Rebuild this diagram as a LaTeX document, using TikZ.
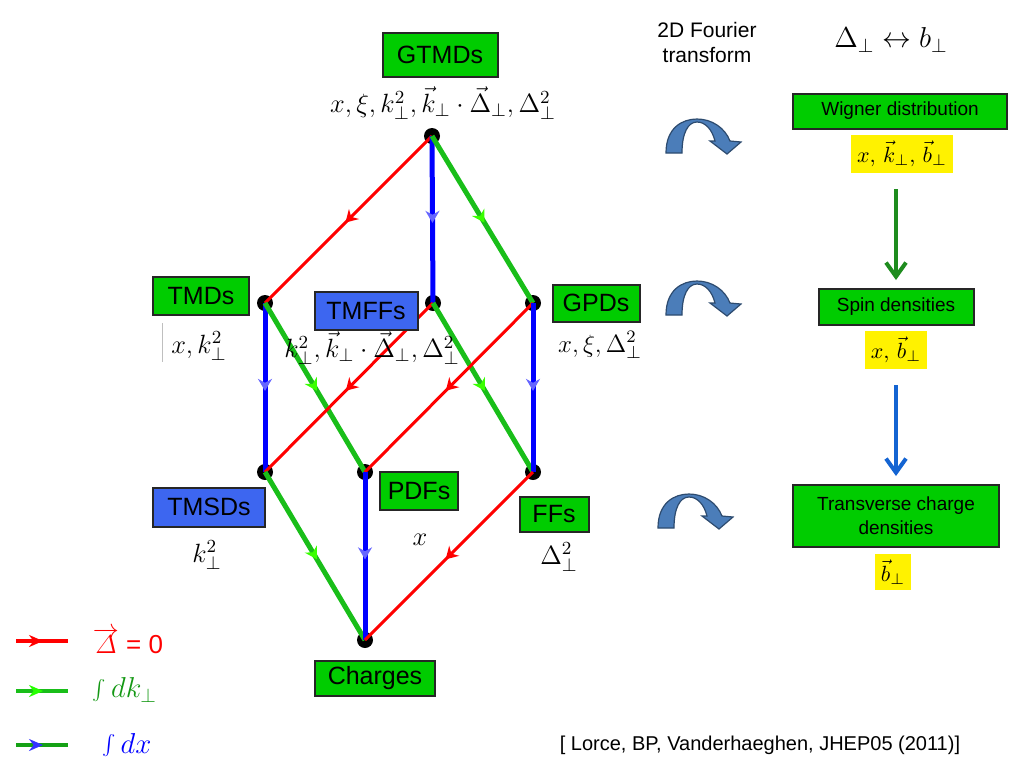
\RequirePackage{fix-cm}
\documentclass[tikz,border=0pt]{standalone}
\usepackage{fontspec}
\setmainfont{Liberation Sans}
\usetikzlibrary{arrows.meta,decorations.markings}
\definecolor{boxgreen}{RGB}{0,204,0}
\definecolor{boxblue}{RGB}{61,102,240}
\definecolor{kgreen}{RGB}{25,190,25}
\definecolor{fblue}{RGB}{75,125,185}
\definecolor{dgreen}{RGB}{30,140,30}
\definecolor{sblue}{RGB}{20,100,210}
\tikzset{
  dot/.style={circle,fill=black,inner sep=0pt,minimum size=8pt},
  bx/.style={draw=black!85,line width=1pt,inner sep=0pt,font=\fontsize{12.5}{15}\selectfont},
  gbox/.style={bx,fill=boxgreen},
  bbox/.style={bx,fill=boxblue},
  rbox/.style={draw=black!85,line width=1pt,fill=boxgreen,inner sep=0pt,align=center,font=\fontsize{9.5}{12}\selectfont},
  var/.style={inner sep=0pt,font=\fontsize{13.2}{15}\selectfont},
  yvar/.style={fill=yellow,inner sep=3pt,font=\fontsize{11}{13}\selectfont},
  midarrow/.style={postaction={decorate},decoration={markings,
    mark=at position 0.52 with {\arrow{#1}}}},
  dlt/.style={red,line width=1.5pt,midarrow={Stealth[length=6pt,width=7pt]}},
  kt/.style={kgreen,line width=2.5pt,midarrow={Stealth[length=6pt,width=7pt,green!70!lime]}},
  ix/.style={blue,line width=2.5pt,midarrow={Stealth[length=6pt,width=7pt,blue!60]}},
}
\begin{document}
\begin{tikzpicture}[x=0.5pt,y=-0.5pt]
\useasboundingbox (0,0) rectangle (1024,768);
% lattice points
\node[dot] (gtmd) at (432,136) {};
\node[dot] (tmd) at (265,303) {};
\node[dot] (tmff) at (433,303) {};
\node[dot] (gpd) at (533,303) {};
\node[dot] (tmsd) at (265,472) {};
\node[dot] (pdf) at (365,472) {};
\node[dot] (ff) at (533,472) {};
\node[dot] (chg) at (365,640) {};
\draw[dlt] (gtmd.center) -- (tmd.center);
\draw[ix] (gtmd.center) -- (tmff.center);
\draw[kt] (gtmd.center) -- (gpd.center);
\draw[ix] (tmd.center) -- (tmsd.center);
\draw[kt] (tmd.center) -- (pdf.center);
\draw[dlt] (tmff.center) -- (tmsd.center);
\draw[kt] (tmff.center) -- (ff.center);
\draw[dlt] (gpd.center) -- (pdf.center);
\draw[ix] (gpd.center) -- (ff.center);
\draw[kt] (tmsd.center) -- (chg.center);
\draw[ix] (pdf.center) -- (chg.center);
\draw[dlt] (ff.center) -- (chg.center);
% labels
\node[gbox,minimum width=57.5pt,minimum height=22pt] (gtmdbox) at (440,55) {GTMDs};
\node[var] (gtmdvar) at (443,103) {$x,\xi,k_\perp^2,\vec{k}_\perp\cdot\vec{\Delta}_\perp,\Delta_\perp^2$};
\node[gbox,minimum width=48pt,minimum height=19pt] (tmdbox) at (201,296) {TMDs};
\node[var] (tmdvar) at (199,346) {$x,k_\perp^2$};
\draw[black!25] (162,323) -- (162,362);
\node[var] (tmffvar) at (372,348) {$k_\perp^2,\vec{k}_\perp\cdot\vec{\Delta}_\perp,\Delta_\perp^2$};
\node[bbox,minimum width=51.5pt,minimum height=19pt] (tmffbox) at (366,311) {TMFFs};
\node[gbox,minimum width=43.5pt,minimum height=18.5pt] (gpdbox) at (596,303) {GPDs};
\node[var,font=\fontsize{12.5}{15}\selectfont] (gpdvar) at (600,345) {$x,\xi,\Delta_\perp^2$};
\node[bbox,minimum width=56pt,minimum height=19.5pt] (tmsdbox) at (209,507) {TMSDs};
\node[var] (tmsdvar) at (207,555) {$k_\perp^2$};
\node[gbox,minimum width=39pt,minimum height=19pt] (pdfbox) at (419,491) {PDFs};
\node[var] (pdfvar) at (420,540) {$x$};
\node[gbox,minimum width=34.5pt,minimum height=17.5pt] (ffbox) at (554,514) {FFs};
\node[var] (ffvar) at (559,557) {$\Delta_\perp^2$};
\node[gbox,minimum width=60pt,minimum height=17.5pt] (chgbox) at (375,678) {Charges};
% right column
\node[align=center,font=\fontsize{10.5}{12.5}\selectfont] (ft) at (707,42) {2D Fourier\\transform};
\node[font=\fontsize{14.4}{16}\selectfont] (ftvar) at (891,40) {$\Delta_\perp\leftrightarrow b_\perp$};
\node[rbox,minimum width=107pt,minimum height=17.5pt] (wig) at (900,111) {Wigner distribution};
\node[yvar] (wigvar) at (902,154) {$x,\,\vec{k}_\perp,\,\vec{b}_\perp$};
\node[rbox,minimum width=77.5pt,minimum height=18pt] (spin) at (896,307) {Spin densities};
\node[yvar] (spinvar) at (896,350) {$x,\,\vec{b}_\perp$};
\node[rbox,minimum width=103pt,minimum height=31pt] (tcd) at (896,516) {Transverse charge\\densities};
\node[yvar] (tcdvar) at (893,572) {$\vec{b}_\perp$};
\draw[dgreen,line width=2pt,-{Straight Barb[length=7pt,width=10pt]},shorten <=8pt,shorten >=4pt] (wigvar.south -| spin.north) -- (spin.north);
\draw[sblue,line width=2pt,-{Straight Barb[length=7pt,width=10pt]},shorten <=8pt,shorten >=4pt] (spinvar.south -| tcd.north) -- (tcd.north);
\foreach \px/\py in {700/153,700/315,692/528}{
\scope[shift={(\px,\py)},yscale=-1]
\filldraw[fill=fblue,draw=fblue!60!black,line width=0.6pt]
  (-34,0) .. controls (-34,25) and (-18,34) .. (-3,34)
  .. controls (12,34) and (25,25) .. (30,12) -- (41,11) -- (27,-1) -- (10,12) -- (15,12)
  .. controls (12,24) and (5,31) .. (-3,31)
  .. controls (-12,31) and (-18,20) .. (-18,0) -- cycle;
\endscope
}
% legend
\coordinate (la) at (16,641); \coordinate (lb) at (68,641);
\coordinate (lc) at (16,691); \coordinate (ld) at (68,691);
\coordinate (le) at (16,745); \coordinate (lf) at (68,745);
\draw[red,line width=1.8pt,midarrow={Stealth[length=7pt,width=6pt]}] (la) -- (lb);
\draw[kgreen,line width=1.8pt,midarrow={Stealth[length=7pt,width=6pt,green!80!lime]}] (lc) -- (ld);
\draw[kgreen!85!black,line width=1.8pt,midarrow={Stealth[length=7pt,width=6pt,blue!80]}] (le) -- (lf);
\node[red,font=\fontsize{13}{15}\selectfont] (dlttxt) at (128,641) {$\overrightarrow{\mathnormal{\Delta}}$ = 0};
\node[kgreen!80!black,font=\fontsize{14.4}{17}\selectfont] (kttxt) at (125,690) {$\int dk_\perp$};
\node[blue,font=\fontsize{14.4}{17}\selectfont] (ixtxt) at (127,745) {$\int dx$};
\node[font=\fontsize{10}{12}\selectfont] (ref) at (760,745) {[ Lorce, BP, Vanderhaeghen, JHEP05 (2011)]};
\end{tikzpicture}
\end{document}
